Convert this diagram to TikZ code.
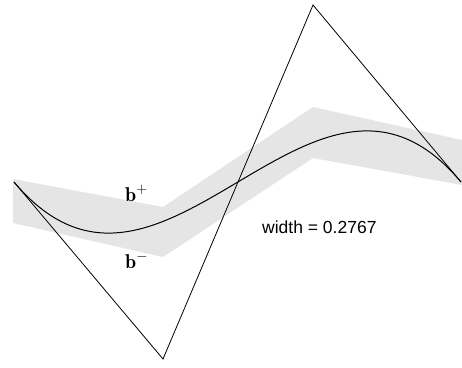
\documentclass[tikz,border=0pt]{standalone}
\usepackage{fontspec}
\setsansfont{Liberation Sans}
\begin{document}
\begin{tikzpicture}[x=1pt,y=-1pt]
      \useasboundingbox (0,0) rectangle (462,367);
      % control points
      \coordinate (P0) at (14,182);
      \coordinate (P1) at (163,359);
      \coordinate (P2) at (313,5);
      \coordinate (P3) at (461,182);
      % fat band
      \fill[gray!20] (13,179) -- (163,207) -- (313,107) -- (462,140)
        -- (462,185) -- (313,158) -- (163,257) -- (13,223) -- cycle;
      \draw[line width=0.8pt] (P0) -- (P1) -- (P2) -- (P3);
      \draw[line width=1pt] (P0) .. controls (P1) and (P2) .. (P3);
      \node (bplus) at (125,201) [anchor=base west, inner sep=0pt] {\fontsize{20}{24}\selectfont$\mathbf{b}^{+}$};
      \node (bminus) at (125,268) [anchor=base west, inner sep=0pt] {\fontsize{20}{24}\selectfont$\mathbf{b}^{-}$};
      \node (width) at (262,233) [anchor=base west, inner sep=0pt] {\fontsize{17.5}{21}\selectfont\sffamily width = 0.2767};
    \end{tikzpicture}
\end{document}
